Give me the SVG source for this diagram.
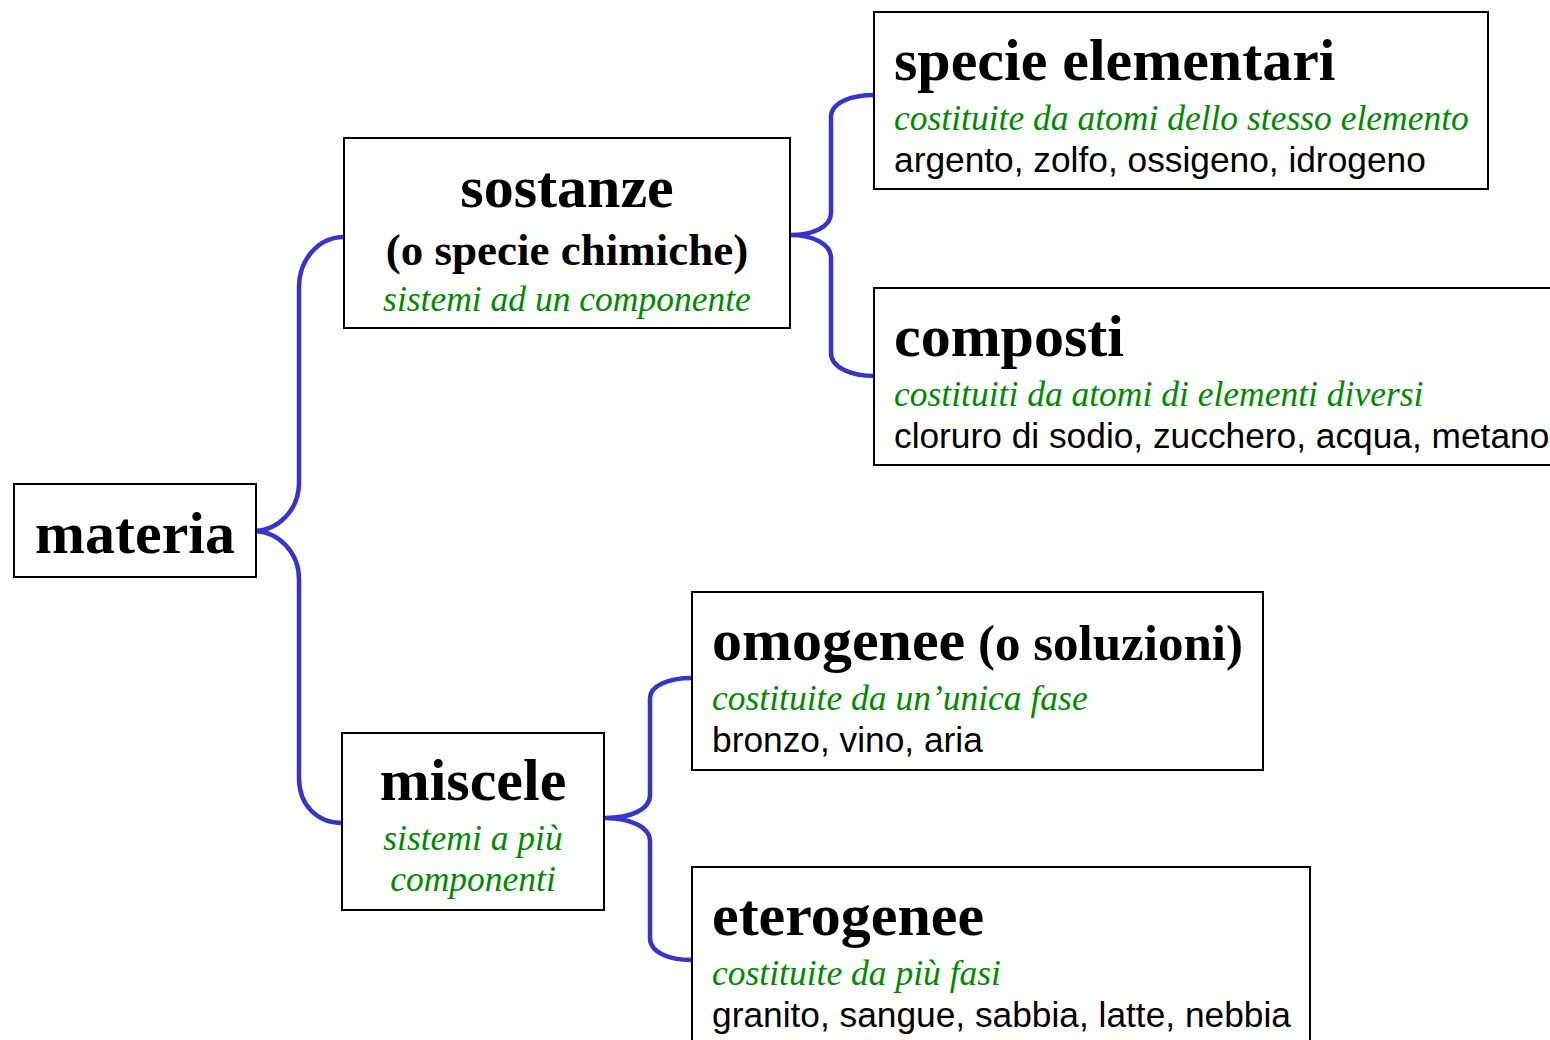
<svg xmlns="http://www.w3.org/2000/svg" width="1550" height="1040" viewBox="0 0 1550 1040">
<style>
.box{fill:#fff;stroke:#000;stroke-width:2}
.t1{font-family:"Liberation Serif","Times New Roman",serif;font-weight:bold;font-size:60px;fill:#000}
.t2{font-family:"Liberation Serif","Times New Roman",serif;font-weight:bold;font-size:45px;fill:#000}
.t3{font-family:"Liberation Serif","Times New Roman",serif;font-weight:bold;font-size:51px;fill:#000}
.g{font-family:"Liberation Serif","Times New Roman",serif;font-style:italic;font-size:35.5px;fill:#008a00}
.ex{font-family:"Liberation Sans",Arial,sans-serif;font-size:35.3px;fill:#000}
.c{text-anchor:middle}
.br{fill:none;stroke:#3535c9;stroke-width:4.5;stroke-linecap:round;stroke-linejoin:round}
</style>
<rect width="1550" height="1040" fill="#fff"/>
<g id="connectors">
<path class="br" d="M344,237 C319,237 299,259 299,287 L299,483 C299,509 279,531 253,531 C279,531 299,553 299,579 L299,778 C299,806 318,823 342,823"/>
<path class="br" d="M875,95 C850,95 831,103 831,117 L831,213 C831,227 813,235 790,235 C813,235 831,244 831,258 L831,353 C831,367 850,376 875,376"/>
<path class="br" d="M692,678 C668,678 650,686 650,698 L650,795 C650,810 630,818 605,818 C630,818 650,827 650,841 L650,938 C650,952 668,960 692,960"/>
</g>
<g id="materia">
<rect class="box" x="14" y="484" width="242" height="93"/>
<text class="t1 c" x="135" y="553">materia</text>
</g>
<g id="sostanze">
<rect class="box" x="344" y="138" width="446" height="190"/>
<text class="t1 c" x="567" y="207">sostanze</text>
<text class="t2 c" x="567" y="265">(o specie chimiche)</text>
<text class="g c" x="567" y="311">sistemi ad un componente</text>
</g>
<g id="specie-elementari">
<rect class="box" x="874" y="12" width="614" height="177"/>
<text class="t1" x="894" y="80">specie elementari</text>
<text class="g" x="894" y="130">costituite da atomi dello stesso elemento</text>
<text class="ex" x="894" y="172">argento, zolfo, ossigeno, idrogeno</text>
</g>
<g id="composti">
<rect class="box" x="874" y="288" width="720" height="177"/>
<text class="t1" x="894" y="356">composti</text>
<text class="g" x="894" y="406">costituiti da atomi di elementi diversi</text>
<text class="ex" x="894" y="448">cloruro di sodio, zucchero, acqua, metano</text>
</g>
<g id="miscele">
<rect class="box" x="342" y="733" width="262" height="177"/>
<text class="t1 c" x="473" y="800">miscele</text>
<text class="g c" x="473" y="850">sistemi a più</text>
<text class="g c" x="473" y="891">componenti</text>
</g>
<g id="omogenee">
<rect class="box" x="692" y="592" width="571" height="178"/>
<text x="712" y="660"><tspan class="t1">omogenee</tspan><tspan class="t3"> (o soluzioni)</tspan></text>
<text class="g" x="712" y="710">costituite da un’unica fase</text>
<text class="ex" x="712" y="752">bronzo, vino, aria</text>
</g>
<g id="eterogenee">
<rect class="box" x="692" y="867" width="618" height="200"/>
<text class="t1" x="712" y="935">eterogenee</text>
<text class="g" x="712" y="985">costituite da più fasi</text>
<text class="ex" x="712" y="1027">granito, sangue, sabbia, latte, nebbia</text>
</g>
</svg>
